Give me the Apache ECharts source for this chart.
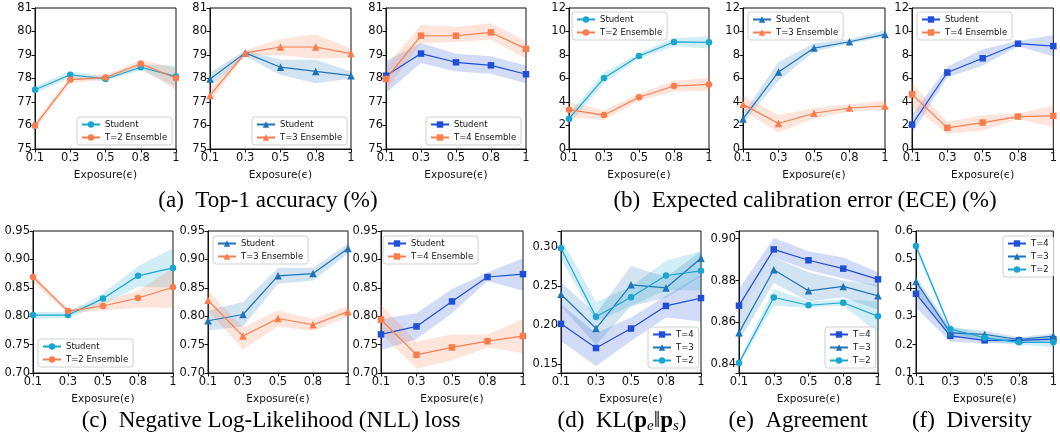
<!DOCTYPE html>
<html>
<head>
<meta charset="utf-8">
<script src="https://cdn.jsdelivr.net/npm/echarts@6/dist/echarts.min.js"></script>
<style>
html, body { margin: 0; padding: 0; background: #fff; }
#chart { width: 1060px; height: 436px; }
</style>
</head>
<body>
<div id="chart"></div>
<script>
const exposure = ['0.1', '0.3', '0.5', '0.8', '1'];

// (a) top-1 accuracy
const accT2Student = [77.52, 78.16, 77.98, 78.48, 78.09];
const accT2StudentBand = [[77.38, 77.68], [78.02, 78.3], [77.88, 78.1], [78.35, 78.6], [77.65, 78.55]];
const accT2Ens = [75.99, 77.95, 78.04, 78.63, 78.01];
const accT2EnsBand = [[75.85, 76.15], [77.8, 78.1], [77.95, 78.15], [78.45, 78.8], [77.5, 78.45]];

const accT3Student = [77.98, 79.09, 78.48, 78.30, 78.12];
const accT3StudentBand = [[77.65, 78.25], [78.95, 79.2], [78.15, 78.8], [77.8, 78.8], [78.0, 78.3]];
const accT3Ens = [77.28, 79.09, 79.34, 79.34, 79.06];
const accT3EnsBand = [[77.0, 77.6], [79.0, 79.2], [79.0, 79.68], [78.85, 79.87], [78.88, 79.28]];

const accT4Student = [78.12, 79.06, 78.69, 78.56, 78.18];
const accT4StudentBand = [[77.38, 78.76], [78.66, 79.51], [78.3, 79.05], [78.2, 78.95], [77.8, 78.55]];
const accT4Ens = [77.98, 79.82, 79.82, 79.96, 79.26];
const accT4EnsBand = [[77.5, 78.5], [79.5, 80.29], [79.55, 80.2], [79.65, 80.35], [78.85, 79.6]];

// (b) ECE
const eceT2Student = [2.58, 6.04, 7.91, 9.11, 9.08];
const eceT2StudentBand = [[2.1, 3.0], [5.6, 6.5], [7.7, 8.15], [8.75, 9.45], [8.55, 9.6]];
const eceT2Ens = [3.35, 2.89, 4.40, 5.36, 5.50];
const eceT2EnsBand = [[2.7, 4.0], [2.5, 3.3], [4.1, 4.7], [4.9, 5.8], [4.95, 6.05]];

const eceT3Student = [2.56, 6.56, 8.59, 9.13, 9.75];
const eceT3StudentBand = [[2.2, 3.0], [5.8, 7.4], [8.3, 9.0], [8.95, 9.35], [9.55, 10.1]];
const eceT3Ens = [3.80, 2.17, 3.04, 3.49, 3.66];
const eceT3EnsBand = [[3.3, 4.5], [1.4, 2.9], [2.6, 3.5], [3.2, 3.8], [3.3, 4.1]];

const eceT4Student = [2.08, 6.51, 7.72, 8.96, 8.76];
const eceT4StudentBand = [[1.3, 2.9], [6.1, 7.0], [7.1, 8.5], [8.75, 9.2], [7.9, 9.7]];
const eceT4Ens = [4.65, 1.80, 2.25, 2.76, 2.82];
const eceT4EnsBand = [[3.6, 5.6], [1.3, 2.3], [1.55, 2.9], [2.55, 3.0], [1.85, 3.7]];

// (c) NLL
const nllT2Student = [0.802, 0.802, 0.831, 0.871, 0.885];
const nllT2StudentBand = [[0.795, 0.808], [0.797, 0.807], [0.82, 0.84], [0.852, 0.888], [0.85, 0.92]];
const nllT2Ens = [0.869, 0.809, 0.818, 0.832, 0.851];
const nllT2EnsBand = [[0.86, 0.875], [0.805, 0.812], [0.81, 0.826], [0.815, 0.845], [0.815, 0.885]];

const nllT3Student = [0.792, 0.803, 0.871, 0.875, 0.919];
const nllT3StudentBand = [[0.775, 0.81], [0.782, 0.825], [0.857, 0.885], [0.863, 0.885], [0.91, 0.928]];
const nllT3Ens = [0.828, 0.765, 0.796, 0.785, 0.808];
const nllT3EnsBand = [[0.81, 0.845], [0.742, 0.78], [0.782, 0.81], [0.774, 0.795], [0.798, 0.818]];

const nllT4Student = [0.768, 0.782, 0.826, 0.869, 0.874];
const nllT4StudentBand = [[0.74, 0.795], [0.76, 0.805], [0.805, 0.848], [0.862, 0.877], [0.845, 0.902]];
const nllT4Ens = [0.794, 0.732, 0.745, 0.756, 0.765];
const nllT4EnsBand = [[0.77, 0.82], [0.708, 0.755], [0.722, 0.768], [0.745, 0.768], [0.735, 0.795]];

// (d) KL
const klT4 = [0.202, 0.171, 0.196, 0.225, 0.235];
const klT4Band = [[0.18, 0.227], [0.148, 0.19], [0.18, 0.21], [0.21, 0.238], [0.205, 0.265]];
const klT3 = [0.240, 0.196, 0.252, 0.248, 0.286];
const klT3Band = [[0.225, 0.255], [0.175, 0.215], [0.225, 0.276], [0.235, 0.262], [0.263, 0.295]];
const klT2 = [0.299, 0.211, 0.236, 0.264, 0.270];
const klT2Band = [[0.285, 0.312], [0.205, 0.23], [0.225, 0.25], [0.245, 0.283], [0.245, 0.295]];

// (e) agreement
const agrT4 = [0.868, 0.8949, 0.8897, 0.8857, 0.8806];
const agrT4Band = [[0.862, 0.876], [0.891, 0.9003], [0.885, 0.894], [0.881, 0.891], [0.877, 0.884]];
const agrT3 = [0.8551, 0.8852, 0.8751, 0.8772, 0.8727];
const agrT3Band = [[0.851, 0.862], [0.879, 0.891], [0.870, 0.884], [0.872, 0.880], [0.866, 0.878]];
const agrT2 = [0.8406, 0.8719, 0.8682, 0.8694, 0.8629];
const agrT2Band = [[0.8395, 0.842], [0.868, 0.876], [0.867, 0.870], [0.868, 0.871], [0.855, 0.870]];

// (f) diversity
const divT4 = [0.379, 0.231, 0.215, 0.215, 0.219];
const divT4Band = [[0.33, 0.42], [0.21, 0.255], [0.205, 0.225], [0.205, 0.222], [0.21, 0.23]];
const divT3 = [0.422, 0.241, 0.236, 0.218, 0.230];
const divT3Band = [[0.38, 0.44], [0.225, 0.26], [0.225, 0.25], [0.21, 0.226], [0.22, 0.24]];
const divT2 = [0.547, 0.255, 0.224, 0.208, 0.208];
const divT2Band = [[0.53, 0.56], [0.245, 0.265], [0.21, 0.235], [0.20, 0.216], [0.19, 0.226]];

const captions = [
  '(a)  Top-1 accuracy (%)',
  '(b)  Expected calibration error (ECE) (%)',
  '(c)  Negative Log-Likelihood (NLL) loss',
  '(d)  KL({b|p}{s|e}‖{b|p}{s|s})',
  '(e)  Agreement',
  '(f)  Diversity'
];

const CYAN = '#1aa6d0', BLUE = '#1f74b8', ROYAL = '#1f4fd6', ORANGE = '#fb7c4c';
const SANS = 'DejaVu Sans';
const INK = '#111';

const accAxis = { min: 75, max: 81, interval: 1, digits: 0 };
const eceAxis = { min: 0, max: 12, interval: 2, digits: 0 };
const nllAxis = { min: 0.70, max: 0.95, interval: 0.05, digits: 2 };
const klAxis = { min: 0.139, max: 0.321, splitNumber: 4, digits: 2, hideEnds: true };
const agrAxis = { min: 0.8358, max: 0.9037, splitNumber: 4, digits: 2, hideEnds: true };
const divAxis = { min: 0.1, max: 0.6, interval: 0.1, digits: 1 };

function line(name, data, band, color, symbol) {
  return { name, data, band, color, symbol };
}

const panels = [
  { grid: [35, 8, 141, 141], axis: accAxis, legend: [77, 117], lines: [
    line('Student', accT2Student, accT2StudentBand, CYAN, 'circle'),
    line('T=2 Ensemble', accT2Ens, accT2EnsBand, ORANGE, 'circle')] },
  { grid: [210, 8, 141, 141], axis: accAxis, legend: [252, 117], lines: [
    line('Student', accT3Student, accT3StudentBand, BLUE, 'triangle'),
    line('T=3 Ensemble', accT3Ens, accT3EnsBand, ORANGE, 'triangle')] },
  { grid: [386, 8, 140, 141], axis: accAxis, legend: [426, 117], lines: [
    line('Student', accT4Student, accT4StudentBand, ROYAL, 'rect'),
    line('T=4 Ensemble', accT4Ens, accT4EnsBand, ORANGE, 'rect')] },
  { grid: [569, 8, 140, 141], axis: eceAxis, legend: [572, 12], lines: [
    line('Student', eceT2Student, eceT2StudentBand, CYAN, 'circle'),
    line('T=2 Ensemble', eceT2Ens, eceT2EnsBand, ORANGE, 'circle')] },
  { grid: [743, 8, 142, 141], axis: eceAxis, legend: [748, 12], lines: [
    line('Student', eceT3Student, eceT3StudentBand, BLUE, 'triangle'),
    line('T=3 Ensemble', eceT3Ens, eceT3EnsBand, ORANGE, 'triangle')] },
  { grid: [912, 8, 142, 141], axis: eceAxis, legend: [917, 12], lines: [
    line('Student', eceT4Student, eceT4StudentBand, ROYAL, 'rect'),
    line('T=4 Ensemble', eceT4Ens, eceT4EnsBand, ORANGE, 'rect')] },
  { grid: [33, 231, 140, 142], axis: nllAxis, legend: [38, 339], lines: [
    line('Student', nllT2Student, nllT2StudentBand, CYAN, 'circle'),
    line('T=2 Ensemble', nllT2Ens, nllT2EnsBand, ORANGE, 'circle')] },
  { grid: [208, 231, 140, 142], axis: nllAxis, legend: [213, 236], lines: [
    line('Student', nllT3Student, nllT3StudentBand, BLUE, 'triangle'),
    line('T=3 Ensemble', nllT3Ens, nllT3EnsBand, ORANGE, 'triangle')] },
  { grid: [381, 231, 142, 142], axis: nllAxis, legend: [383, 236], lines: [
    line('Student', nllT4Student, nllT4StudentBand, ROYAL, 'rect'),
    line('T=4 Ensemble', nllT4Ens, nllT4EnsBand, ORANGE, 'rect')] },
  { grid: [561, 231, 140, 142], axis: klAxis, legend: [648, 327], lines: [
    line('T=4', klT4, klT4Band, ROYAL, 'rect'),
    line('T=3', klT3, klT3Band, BLUE, 'triangle'),
    line('T=2', klT2, klT2Band, CYAN, 'circle')] },
  { grid: [739, 231, 139, 142], axis: agrAxis, legend: [825, 327], lines: [
    line('T=4', agrT4, agrT4Band, ROYAL, 'rect'),
    line('T=3', agrT3, agrT3Band, BLUE, 'triangle'),
    line('T=2', agrT2, agrT2Band, CYAN, 'circle')] },
  { grid: [916, 231, 140, 142], axis: divAxis, legend: [1003, 236], lines: [
    line('T=4', divT4, divT4Band, ROYAL, 'rect'),
    line('T=3', divT3, divT3Band, BLUE, 'triangle'),
    line('T=2', divT2, divT2Band, CYAN, 'circle')] }
];

const captionPos = [[268, 188], [805, 188], [271, 408], [622, 408], [798, 408], [972, 408]];

const grids = [], xAxes = [], yAxes = [], series = [], legends = [];

panels.forEach((p, i) => {
  const tag = '\u200b'.repeat(i + 1);
  const ax = p.axis;
  grids.push({
    left: p.grid[0], top: p.grid[1], width: p.grid[2], height: p.grid[3],
    show: true, borderColor: INK, borderWidth: 1, backgroundColor: 'transparent'
  });
  xAxes.push({
    gridIndex: i, type: 'category', data: exposure, boundaryGap: false,
    name: 'Exposure(ϵ)', nameLocation: 'middle', nameGap: 21,
    nameTextStyle: { fontFamily: SANS, fontSize: 10.5, color: INK },
    axisLine: { lineStyle: { color: INK, width: 1 } },
    axisTick: { interval: 0, length: 3.5, lineStyle: { color: INK } },
    axisLabel: { interval: 0, fontFamily: SANS, fontSize: 11.5, color: INK, margin: 3 },
    splitLine: { show: false }
  });
  const y = {
    gridIndex: i, type: 'value', min: ax.min, max: ax.max,
    axisLine: { show: true, lineStyle: { color: INK, width: 1 } },
    axisTick: { show: true, length: 3.5, lineStyle: { color: INK } },
    axisLabel: {
      fontFamily: SANS, fontSize: 11.5, color: INK, margin: 3,
      formatter: (v) => {
        if (ax.hideEnds && (Math.abs(v - ax.min) < 1e-9 || Math.abs(v - ax.max) < 1e-9)) return '';
        return v.toFixed(ax.digits);
      }
    },
    splitLine: { show: false }
  };
  if (ax.interval) y.interval = ax.interval;
  if (ax.splitNumber) y.splitNumber = ax.splitNumber;
  yAxes.push(y);

  // confidence bands: lower edge + stacked width
  p.lines.forEach((l, j) => {
    const stack = 'band' + i + '_' + j;
    series.push({
      type: 'line', xAxisIndex: i, yAxisIndex: i, stack, silent: true, z: 1,
      data: l.band.map((b) => b[0]), symbol: 'none', lineStyle: { opacity: 0 }
    });
    series.push({
      type: 'line', xAxisIndex: i, yAxisIndex: i, stack, silent: true, z: 1,
      data: l.band.map((b) => +(b[1] - b[0]).toFixed(5)), symbol: 'none',
      lineStyle: { opacity: 0 }, areaStyle: { color: l.color, opacity: 0.2 }
    });
  });
  p.lines.forEach((l) => {
    series.push({
      name: l.name + tag, type: 'line', xAxisIndex: i, yAxisIndex: i, z: 3,
      data: l.data, symbol: l.symbol,
      symbolSize: l.symbol === 'triangle' ? 7.5 : 6.5,
      itemStyle: { color: l.color }, lineStyle: { color: l.color, width: 1.2 }
    });
  });

  legends.push({
    data: p.lines.map((l) => l.name + tag), left: p.legend[0], top: p.legend[1],
    orient: 'vertical', itemWidth: 18, itemHeight: 8, itemGap: 4,
    padding: [3, 5, 3, 4], backgroundColor: 'rgba(255,255,255,0.85)',
    borderColor: '#d0d0d0', borderWidth: 1, borderRadius: 3, selectedMode: false,
    formatter: (n) => n.replace(/\u200b/g, ''),
    textStyle: { fontFamily: SANS, fontSize: 8.5, color: INK }
  });
});

const titles = captions.map((t, k) => ({
  text: t, left: captionPos[k][0], top: captionPos[k][1], textAlign: 'center', padding: 0,
  textStyle: {
    fontFamily: 'Liberation Serif', fontSize: 23, fontWeight: 'normal', color: '#000', lineHeight: 26,
    rich: {
      b: { fontFamily: 'Liberation Serif', fontSize: 23, fontWeight: 'bold', color: '#000', lineHeight: 26 },
      s: { fontFamily: 'Liberation Serif', fontSize: 15, fontStyle: 'italic', color: '#000', lineHeight: 16, verticalAlign: 'bottom' }
    }
  }
}));

const chart = echarts.init(document.getElementById('chart'), null, { renderer: 'canvas' });
chart.setOption({
  animation: false,
  backgroundColor: '#fff',
  title: titles,
  grid: grids,
  xAxis: xAxes,
  yAxis: yAxes,
  legend: legends,
  series
});
</script>
</body>
</html>
